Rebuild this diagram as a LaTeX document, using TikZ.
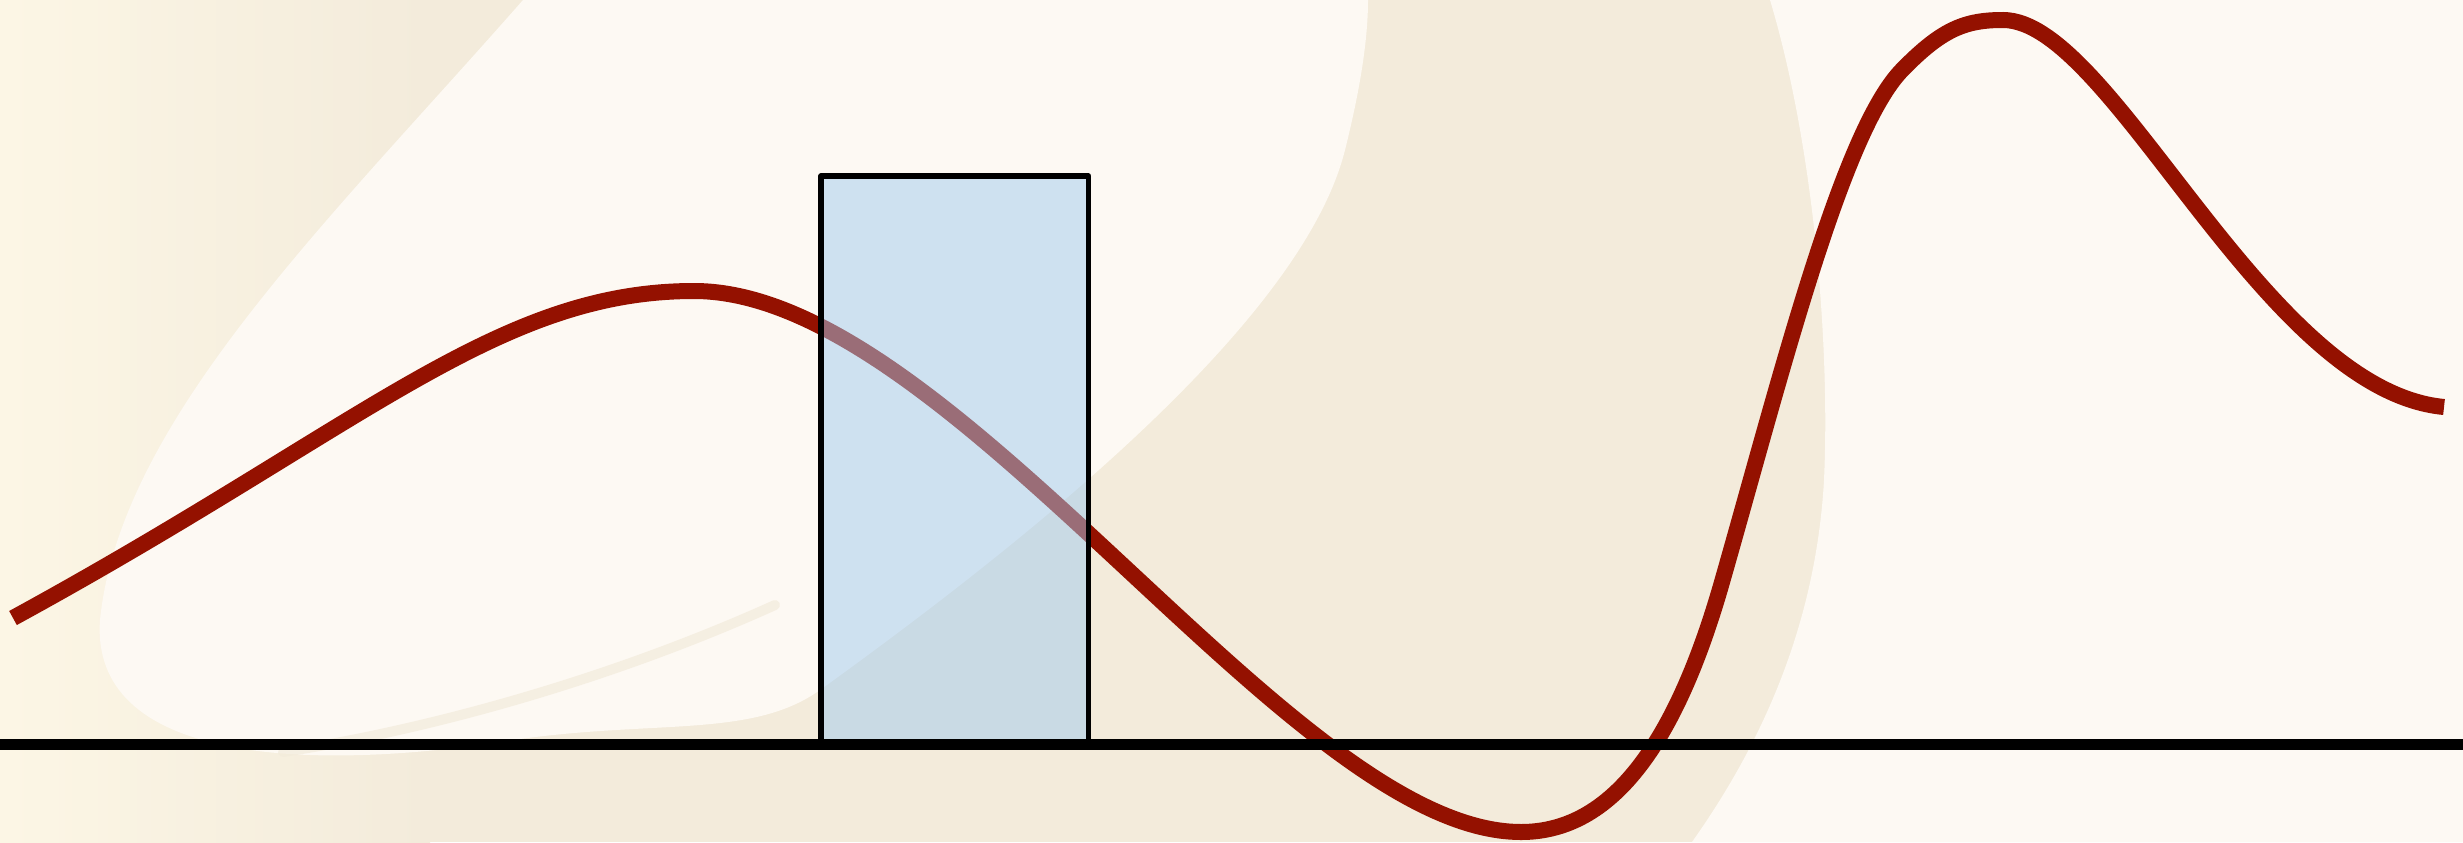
\documentclass[tikz,border=0pt]{standalone}
\usepackage{tikz}
\usetikzlibrary{positioning}
\definecolor{paper}{HTML}{FDF9F3}
\definecolor{sand}{HTML}{F3EBDB}
\definecolor{cream}{HTML}{FCF6E5}
\definecolor{wavered}{HTML}{941100}
\definecolor{barblue}{RGB}{161,202,238}
\def\W{2463}
\def\H{842}
\def\groundY{744}

\begin{document}
\begin{tikzpicture}[
    x=0.01cm, y=-0.01cm,
    wave/.style={draw=wavered, line width=1.6mm},
    window/.style={draw=black, line width=0.55mm, line join=round,
        fill=barblue, fill opacity=0.5},
    groundline/.style={draw=black, line width=1.1mm},
    streak/.style={draw=sand, line width=1.0mm, line cap=round, opacity=0.7}
]
\useasboundingbox (0,0) rectangle (\W,\H);

% paper background
\fill[sand] (0,0) rectangle (\W,\H);
\shade[left color=cream, right color=sand] (0,0) rectangle (430,\H);
\fill[paper] (523,0) .. controls (330,220) and (120,420) .. (100,620)
    .. controls (90,760) and (300,772) .. (500,742)
    .. controls (650,718) and (750,740) .. (820,690)
    .. controls (1000,560) and (1300,330) .. (1345,150)
    .. controls (1360,90) and (1368,40) .. (1368,0) -- cycle;
\fill[paper] (1770,0) .. controls (1815,150) and (1830,350) .. (1824,480)
    .. controls (1815,640) and (1750,760) .. (1692,\H)
    -- (\W,\H) -- (\W,0) -- cycle;
\draw[streak] (775,605) .. controls (620,675) and (440,728) .. (283,752);

% named points
\coordinate (bar nw) at (821,176);
\coordinate (bar se) at (1088.5,\groundY);
\coordinate (ground west) at (0,\groundY);
\coordinate (ground east) at (\W,\groundY);

% the wave
\draw[wave] (13,618) .. controls (363,427) and (496,291) .. (694,291)
    .. controls (954,291) and (1291,832) .. (1521,832)
    .. controls (1605,832) and (1672,757) .. (1722,582)
    .. controls (1782,372) and (1842,132) .. (1902,70)
    .. controls (1942,29) and (1965,20) .. (2003,20)
    .. controls (2112,20) and (2263,390) .. (2444,407);

% window and ground
\draw[window] (bar nw) rectangle (bar se);
\draw[groundline] (ground west) -- (ground east);
\end{tikzpicture}
\end{document}
